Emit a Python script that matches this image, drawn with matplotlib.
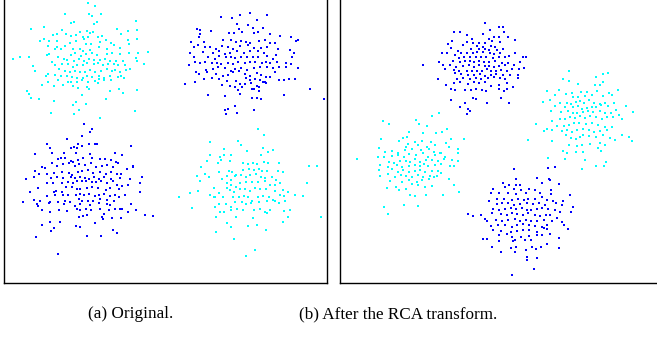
import numpy as np
import matplotlib
matplotlib.use("Agg")
import matplotlib.pyplot as plt

# point clouds, in 1/3-pixel units of each crop,
# with the crop origin (also 1/3 px) kept next to each cloud

# (a) cyan, top left
a1_origin = [0, 0]
a1 = [(265,10),(285,18),(196,42),(268,43),(302,42),(277,48),(409,63),(212,69),(222,66),(290,66),(282,72),(133,80),(94,88),(186,90),(260,92),(350,87),(240,96),(270,98),(278,97),(385,93),(412,90),(362,103),(159,105),(172,102),(197,102),(212,108),(228,106),(250,110),(265,110),(295,112),(305,108),(119,122),(131,118),(147,124),(172,123),(228,124),(252,118),(258,131),(272,132),(300,126),(317,121),(332,128),(343,135),(384,120),(412,118),(388,133),(143,138),(172,142),(195,137),(210,130),(219,148),(239,148),(250,153),(269,150),(296,141),(322,146),(360,143),(147,162),(166,148),(184,147),(212,164),(226,159),(242,167),(259,163),(276,160),(292,166),(320,163),(335,158),(360,162),(386,160),(414,160),(445,156),(141,166),(174,172),(191,176),(200,180),(223,183),(238,178),(252,183),(266,178),(283,180),(300,179),(315,178),(331,184),(349,184),(369,183),(409,175),(38,178),(59,172),(88,171),(155,185),(166,195),(185,193),(205,192),(218,200),(232,196),(249,196),(262,190),(282,192),(293,189),(309,196),(325,193),(343,191),(355,196),(374,195),(391,208),(410,182),(433,193),(100,198),(176,208),(194,214),(209,215),(225,212),(239,216),(256,216),(271,210),(286,216),(302,212),(320,208),(335,214),(346,210),(360,215),(377,210),(105,213),(144,223),(165,226),(183,228),(201,229),(216,230),(232,233),(248,234),(262,228),(277,232),(296,228),(312,233),(330,229),(353,230),(363,227),(373,235),(137,229),(173,240),(204,246),(213,245),(230,247),(245,240),(264,245),(285,244),(297,238),(313,239),(332,240),(126,254),(145,247),(163,257),(190,255),(219,259),(234,265),(261,260),(268,266),(294,250),(330,272),(357,267),(410,271),(370,279),(82,272),(88,282),(93,293),(118,298),(162,304),(228,306),(218,316),(258,312),(247,286),(238,330),(319,297),(405,333),(152,338),(222,342),(301,355)]

# (a) blue, top right
a2_origin = [480, 0]
a2 = [(269,38),(240,44),(215,53),(184,51),(322,46),(230,72),(265,74),(292,60),(110,86),(153,92),(120,90),(236,86),(278,84),(308,83),(119,103),(117,112),(207,98),(222,98),(246,95),(283,98),(293,96),(331,103),(361,108),(392,112),(93,125),(131,127),(113,135),(190,121),(213,120),(227,127),(244,122),(258,127),(271,128),(296,124),(316,120),(330,130),(346,130),(408,122),(415,120),(101,140),(134,142),(151,142),(169,146),(186,138),(205,140),(220,146),(240,138),(265,136),(281,144),(303,144),(322,140),(353,148),(389,150),(401,158),(89,160),(130,156),(159,158),(176,154),(194,162),(209,160),(230,152),(252,160),(270,154),(293,152),(313,159),(347,165),(101,172),(144,170),(164,176),(178,168),(199,172),(214,170),(226,175),(243,170),(261,172),(279,172),(295,170),(322,168),(338,176),(395,172),(86,195),(106,186),(120,188),(134,185),(155,190),(172,190),(184,193),(204,188),(218,192),(234,185),(256,190),(270,186),(286,186),(306,188),(318,185),(331,190),(352,187),(379,188),(393,193),(413,205),(107,215),(137,210),(160,206),(175,200),(196,205),(212,212),(224,207),(244,203),(261,210),(281,204),(300,200),(320,202),(338,203),(358,200),(378,201),(118,222),(141,216),(168,223),(188,227),(203,224),(220,217),(236,213),(256,222),(270,228),(290,220),(304,224),(319,230),(345,217),(132,237),(155,235),(177,238),(202,243),(227,244),(258,233),(270,240),(285,236),(300,240),(314,246),(331,232),(357,240),(371,240),(386,237),(404,236),(106,246),(186,255),(210,258),(226,260),(239,253),(255,251),(273,250),(291,258),(308,246),(319,250),(233,270),(247,262),(276,266),(283,266),(297,262),(298,273),(74,252),(449,268),(144,285),(195,287),(239,281),(276,293),(290,295),(302,298),(371,285),(491,298),(226,317),(196,330),(205,328),(281,330),(232,340),(198,343)]

# (a) blue, bottom left
a3_origin = [0, 330]
a3 = [(253,43),(276,58),(269,67),(247,77),(201,87),(292,103),(266,102),(284,101),(140,103),(235,103),(247,107),(223,110),(230,113),(212,113),(392,109),(151,115),(155,128),(105,133),(192,130),(228,128),(270,131),(344,128),(182,143),(213,154),(220,155),(235,150),(155,158),(174,148),(196,145),(250,143),(276,144),(300,147),(316,148),(333,150),(347,156),(367,136),(353,160),(399,167),(126,170),(136,173),(170,167),(190,162),(208,160),(224,167),(238,163),(255,165),(272,160),(288,172),(305,168),(320,166),(340,170),(381,177),(399,172),(105,183),(116,193),(142,192),(163,188),(187,186),(206,190),(216,194),(235,187),(247,184),(264,180),(280,190),(300,186),(317,193),(332,186),(352,192),(362,192),(77,207),(103,200),(153,203),(171,201),(189,204),(213,200),(224,205),(240,200),(255,205),(268,206),(283,200),(298,208),(313,200),(333,206),(360,204),(391,206),(426,201),(140,219),(160,220),(186,218),(205,215),(220,218),(231,212),(245,214),(258,212),(276,215),(288,217),(304,214),(321,219),(340,212),(350,224),(367,229),(385,225),(421,220),(89,247),(113,233),(162,246),(167,242),(185,245),(198,232),(215,232),(232,238),(241,236),(262,235),(275,232),(294,234),(318,240),(331,235),(356,238),(419,247),(141,259),(165,256),(188,256),(203,254),(229,255),(240,253),(252,256),(266,252),(285,258),(297,254),(313,252),(330,258),(344,254),(357,262),(374,254),(102,270),(70,277),(119,272),(150,275),(175,275),(195,273),(209,277),(237,268),(247,272),(263,272),(278,274),(300,266),(322,270),(341,272),(112,283),(115,287),(147,280),(193,283),(226,288),(240,283),(271,285),(297,280),(322,282),(330,285),(392,283),(127,300),(151,305),(178,300),(202,302),(232,298),(241,300),(257,296),(274,299),(301,298),(312,312),(328,300),(345,298),(361,298),(366,297),(385,305),(409,300),(436,314),(459,318),(236,322),(250,317),(261,315),(306,321),(310,327),(335,325),(363,323),(150,335),(180,335),(284,338),(125,345),(162,354),(153,362),(227,348),(239,351),(340,360),(352,370),(261,378),(304,378),(107,382),(174,432)]

# (a) cyan, bottom right
a4_origin = [480, 330]
a4 = [(293,58),(311,76),(234,92),(151,97),(243,106),(310,113),(193,117),(260,123),(340,120),(150,136),(181,140),(193,135),(213,134),(304,136),(325,127),(140,153),(124,172),(174,158),(184,150),(210,152),(250,160),(263,163),(278,160),(290,163),(313,157),(324,158),(358,158),(448,167),(470,167),(135,193),(111,197),(146,200),(177,187),(207,182),(216,187),(229,194),(249,180),(267,178),(283,180),(296,178),(306,183),(322,182),(353,183),(369,185),(119,212),(185,206),(200,198),(213,210),(225,198),(242,196),(258,200),(270,196),(288,192),(303,200),(315,205),(337,200),(348,210),(442,220),(162,234),(200,220),(212,225),(227,230),(241,219),(258,215),(277,217),(295,215),(315,212),(329,225),(345,225),(360,218),(115,242),(89,250),(57,262),(151,256),(166,260),(178,248),(200,235),(210,240),(223,245),(240,236),(255,238),(270,244),(285,234),(300,238),(318,238),(344,243),(370,240),(385,245),(406,255),(429,257),(161,262),(190,262),(218,262),(238,260),(253,258),(265,262),(277,272),(293,262),(310,258),(326,262),(340,270),(359,256),(372,258),(176,282),(198,282),(212,290),(225,276),(245,276),(258,282),(274,280),(296,277),(320,272),(345,272),(357,280),(376,273),(96,294),(165,290),(180,305),(193,306),(214,300),(231,297),(249,300),(282,300),(300,297),(314,306),(330,300),(371,302),(390,301),(168,322),(228,322),(280,324),(322,310),(384,320),(484,320),(200,340),(214,350),(265,348),(291,345),(370,337),(318,361),(169,367),(221,386),(285,420),(258,438)]

# (b) blue, top
b1_origin = [1260, 0]
b1 = [(196,69),(236,80),(250,82),(103,96),(121,97),(140,104),(188,102),(211,90),(251,97),(222,111),(238,110),(264,110),(155,118),(206,118),(215,124),(284,120),(97,124),(142,126),(160,128),(176,130),(196,128),(240,127),(83,133),(130,135),(170,137),(188,140),(213,137),(226,142),(93,145),(114,152),(152,148),(177,146),(196,146),(207,150),(232,150),(248,148),(65,158),(80,158),(105,164),(122,158),(140,158),(160,160),(172,156),(188,156),(210,160),(222,163),(240,160),(286,160),(118,173),(133,172),(150,170),(168,172),(184,172),(197,170),(218,175),(237,172),(255,170),(268,168),(310,170),(318,170),(56,186),(100,183),(120,187),(135,183),(150,184),(163,185),(176,183),(193,186),(208,186),(224,183),(245,188),(265,190),(300,185),(10,196),(68,195),(90,196),(108,200),(128,198),(147,196),(163,200),(178,196),(194,198),(208,197),(222,200),(236,197),(255,196),(283,196),(312,205),(75,206),(101,210),(117,212),(140,214),(155,212),(170,213),(186,212),(200,208),(214,212),(228,212),(244,210),(261,214),(277,206),(298,206),(104,220),(124,222),(145,226),(163,226),(180,223),(195,228),(212,224),(228,222),(248,226),(270,225),(295,224),(54,236),(112,238),(130,235),(150,238),(168,235),(182,238),(205,235),(222,232),(240,235),(256,238),(295,234),(79,256),(103,250),(120,246),(144,252),(162,246),(178,250),(196,246),(213,258),(236,255),(262,248),(278,262),(92,268),(105,270),(134,270),(152,270),(168,268),(186,270),(198,272),(238,268),(252,272),(261,268),(158,293),(167,296),(244,293),(92,300),(135,308),(202,310),(266,308),(120,322),(145,326),(151,333),(140,343)]

# (b) cyan, right
b2_origin = [1470, 150]
b2 = [(236,64),(338,72),(355,70),(220,86),(317,82),(238,93),(340,97),(265,101),(316,104),(330,106),(170,122),(207,120),(228,132),(245,130),(272,126),(292,126),(320,124),(358,128),(385,120),(196,136),(250,140),(265,140),(285,138),(305,136),(340,138),(365,134),(158,155),(180,150),(211,160),(232,158),(243,162),(258,155),(270,152),(282,160),(298,150),(312,158),(330,162),(345,158),(372,158),(194,168),(225,170),(250,172),(264,168),(277,176),(290,175),(305,172),(318,170),(333,165),(355,168),(378,180),(408,168),(430,187),(182,184),(213,185),(233,183),(248,190),(262,188),(280,186),(294,183),(309,186),(330,182),(346,188),(362,190),(388,194),(209,208),(187,214),(225,206),(239,200),(255,205),(270,198),(285,204),(300,198),(318,200),(336,206),(350,200),(368,200),(397,206),(137,222),(170,236),(200,228),(223,228),(237,226),(252,220),(268,218),(288,222),(305,218),(325,226),(345,230),(367,230),(162,242),(185,240),(217,244),(230,240),(246,246),(262,240),(280,237),(296,240),(313,245),(329,242),(352,240),(115,270),(186,272),(228,256),(242,265),(257,268),(270,260),(280,255),(296,258),(318,260),(340,256),(360,264),(397,254),(416,262),(425,273),(236,285),(262,288),(275,285),(300,282),(330,280),(345,285),(375,270),(218,302),(230,310),(258,306),(280,306),(323,294),(332,303),(174,324),(224,326),(286,330),(347,335),(342,348),(277,358),(317,348)]

# (b) cyan, left
b3_origin = [1005, 300]
b3 = [(313,40),(292,47),(145,64),(162,72),(242,60),(276,78),(252,73),(223,96),(263,98),(304,100),(322,96),(336,86),(205,113),(217,110),(192,124),(240,126),(262,124),(287,125),(333,128),(348,118),(387,116),(220,133),(213,140),(249,136),(276,140),(300,136),(139,116),(132,145),(150,155),(172,152),(190,158),(209,150),(232,146),(258,150),(282,148),(296,156),(316,158),(342,142),(369,148),(130,170),(147,170),(170,168),(188,164),(206,172),(222,162),(244,166),(264,160),(278,170),(300,166),(318,160),(330,172),(368,160),(66,177),(161,186),(178,188),(194,183),(213,184),(226,186),(240,178),(256,186),(272,180),(290,180),(308,184),(326,178),(350,180),(370,182),(134,194),(160,200),(185,196),(202,200),(222,198),(239,194),(256,198),(266,192),(280,198),(300,196),(318,192),(344,198),(356,198),(131,210),(170,208),(188,216),(204,210),(221,215),(240,212),(256,210),(271,216),(290,212),(310,214),(134,228),(160,222),(180,230),(197,224),(214,228),(231,230),(250,226),(264,232),(284,228),(305,228),(318,220),(343,238),(164,244),(200,246),(222,240),(245,246),(262,240),(282,236),(296,232),(232,252),(250,256),(270,262),(290,258),(156,264),(182,262),(193,270),(214,268),(356,256),(372,275),(225,286),(240,288),(272,284),(325,284),(148,320),(208,315),(250,318),(158,343)]

# (b) blue, bottom
b4_origin = [1320, 450]
b4 = [(222,56),(323,55),(345,52),(228,86),(292,84),(326,86),(330,90),(190,100),(207,105),(229,104),(240,106),(306,98),(356,103),(160,116),(195,110),(222,117),(244,120),(266,116),(284,120),(333,120),(176,128),(203,130),(228,131),(258,130),(300,130),(334,133),(390,135),(153,130),(148,152),(171,148),(192,146),(216,150),(234,147),(252,150),(264,146),(284,146),(305,140),(320,150),(340,152),(370,152),(172,163),(187,158),(204,160),(222,165),(240,162),(262,160),(280,162),(296,160),(316,165),(348,160),(365,164),(399,172),(160,176),(178,180),(195,178),(212,174),(229,178),(246,175),(260,180),(274,180),(290,178),(305,175),(325,178),(346,180),(393,186),(83,193),(100,198),(124,196),(157,190),(183,192),(200,196),(215,190),(232,192),(248,195),(265,190),(285,195),(300,198),(318,195),(331,196),(352,204),(361,186),(136,206),(140,212),(167,210),(185,214),(204,210),(224,208),(239,212),(258,210),(272,212),(290,214),(312,210),(336,212),(366,215),(152,228),(175,226),(196,224),(216,230),(232,225),(250,222),(268,226),(286,228),(306,232),(322,226),(372,225),(160,240),(183,244),(212,246),(230,242),(248,240),(266,240),(290,245),(312,235),(320,238),(384,237),(130,268),(140,266),(178,256),(200,252),(215,262),(226,270),(243,262),(268,258),(290,255),(306,254),(330,252),(356,264),(178,272),(218,272),(254,270),(273,270),(322,283),(304,290),(289,296),(155,292),(213,294),(228,292),(258,300),(276,290),(356,294),(184,306),(225,306),(261,322),(261,330),(290,325),(282,358),(216,376)]

captions = ["(a) Original.", "(b) After the RCA transform."]

W, H = 657, 339
fig = plt.figure(figsize=(W / 100, H / 100), dpi=100)

# axes boxes in pixels: left, right, top, bottom (top runs past the image edge)
ax_a = fig.add_axes([4 / W, (H - 283) / H, 322.5 / W, 288 / H])
ax_b = fig.add_axes([340 / W, (H - 283) / H, 320 / W, 288 / H])

def draw(ax, pts, origin, color):
    p = np.array(pts, dtype=float) + origin
    ax.scatter(p[:, 0], p[:, 1], s=0.6, marker="s", c=color, linewidths=0)

draw(ax_a, a1, a1_origin, "#00ffff")
draw(ax_a, a2, a2_origin, "#0000ff")
draw(ax_a, a3, a3_origin, "#0000ff")
draw(ax_a, a4, a4_origin, "#00ffff")
draw(ax_b, b1, b1_origin, "#0000ff")
draw(ax_b, b2, b2_origin, "#00ffff")
draw(ax_b, b3, b3_origin, "#00ffff")
draw(ax_b, b4, b4_origin, "#0000ff")

ax_a.set_xlim(12, 979.5)
ax_b.set_xlim(1020, 1980)
for ax in (ax_a, ax_b):
    ax.set_ylim(849, -15)
    ax.set_xticks([])
    ax.set_yticks([])
    for s in ax.spines.values():
        s.set_linewidth(1.0)

fig.text(131 / W, 1 - 314 / H, captions[0], ha="center", va="center",
         family="Liberation Serif", fontsize=12.3)
fig.text(398.5 / W, 1 - 314 / H, captions[1], ha="center", va="center",
         family="Liberation Serif", fontsize=12.3)

fig.savefig("out.png", dpi=100)
